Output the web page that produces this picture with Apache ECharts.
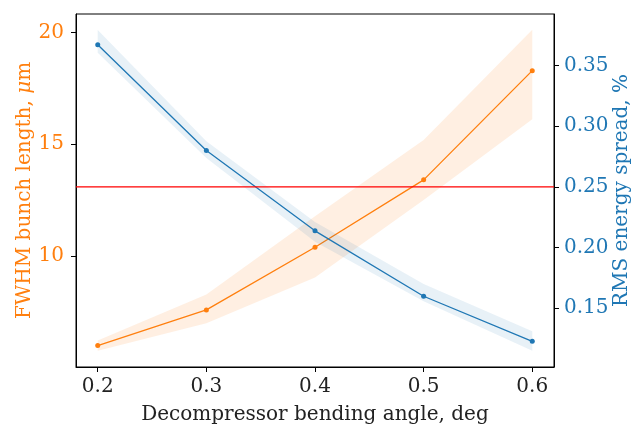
<!DOCTYPE html>
<html>
<head>
<meta charset="utf-8">
<script src="https://cdn.jsdelivr.net/npm/echarts@6/dist/echarts.min.js"></script>
<style>
  html, body { margin: 0; padding: 0; background: #fff; }
  #chart { width: 637px; height: 428px; }
</style>
</head>
<body>
<div id="chart"></div>
<script>
// Decompressor bending angle scan: bunch length and energy spread
const angles = [0.2, 0.3, 0.4, 0.5, 0.6];
const angleTicks = [0.2, 0.3, 0.4, 0.5, 0.6];

// FWHM bunch length, um (mean and spread band)
const bunchLength = [6.01, 7.60, 10.40, 13.41, 18.29];
const bunchLow = [5.78, 7.01, 9.05, 12.51, 16.12];
const bunchHigh = [6.23, 8.29, 11.78, 15.19, 20.12];
const bunchTicks = [10, 15, 20];

// RMS energy spread, % (mean and spread band)
const spread = [0.3673, 0.2800, 0.2137, 0.1597, 0.1225];
const spreadLow = [0.3607, 0.2739, 0.2046, 0.1555, 0.1148];
const spreadHigh = [0.3795, 0.2876, 0.2211, 0.1698, 0.1308];
const spreadTicks = [0.15, 0.20, 0.25, 0.30, 0.35];

// Energy spread limit
const spreadLimit = [0.25];

const ORANGE = '#ff7f0e';
const BLUE = '#1f77b4';
const RED = '#ff0000';
const FONT = 'DejaVu Serif';

function band(low, high, yAxisIndex, fill, z) {
  return {
    type: 'custom',
    yAxisIndex: yAxisIndex,
    silent: true,
    z: z,
    data: angles.map((a, i) => [a, low[i], high[i]]),
    encode: { x: 0, y: [1, 2] },
    renderItem: function (params, api) {
      if (params.dataIndex !== 0) return null;
      const top = angles.map((a, i) => api.coord([a, high[i]]));
      const bottom = angles.map((a, i) => api.coord([a, low[i]])).reverse();
      return {
        type: 'polygon',
        shape: { points: top.concat(bottom) },
        style: { fill: fill }
      };
    }
  };
}

const chart = echarts.init(document.getElementById('chart'), null, { renderer: 'canvas' });

chart.setOption({
  animation: false,
  backgroundColor: '#fff',
  grid: {
    left: 76, right: 83, top: 14, bottom: 61,
    containLabel: false,
    outerBoundsMode: 'none',
    show: true, borderColor: '#000', borderWidth: 1, backgroundColor: 'transparent'
  },
  xAxis: {
    type: 'value',
    min: 0.18, max: 0.62,
    name: 'Decompressor bending angle, deg',
    nameLocation: 'middle',
    nameGap: 38,
    nameMoveOverlap: false,
    nameTextStyle: { fontFamily: FONT, fontSize: 20, color: '#222' },
    axisLine: { show: true, onZero: false, lineStyle: { color: '#000', width: 1 } },
    axisTick: { show: true, length: 5, customValues: angleTicks, lineStyle: { color: '#000' } },
    axisLabel: {
      customValues: angleTicks,
      margin: 10,
      fontFamily: FONT, fontSize: 20, color: '#222',
      formatter: v => Number(v).toFixed(1)
    },
    splitLine: { show: false }
  },
  yAxis: [
    {
      type: 'value',
      position: 'left',
      min: 5.05, max: 20.82,
      name: 'FWHM bunch length, {i|μ}m',
      nameLocation: 'middle',
      nameRotate: 90,
      nameGap: 41,
      nameMoveOverlap: false,
      nameTextStyle: {
        fontFamily: FONT, fontSize: 20, color: ORANGE,
        rich: { i: { fontFamily: FONT, fontSize: 20, fontStyle: 'italic', color: ORANGE } }
      },
      axisLine: { show: true, lineStyle: { color: '#000', width: 1 } },
      axisTick: { show: true, length: 5, customValues: bunchTicks, lineStyle: { color: '#000' } },
      axisLabel: {
        customValues: bunchTicks,
        margin: 12,
        fontFamily: FONT, fontSize: 20, color: ORANGE
      },
      splitLine: { show: false }
    },
    {
      type: 'value',
      position: 'right',
      min: 0.1013, max: 0.3927,
      name: 'RMS energy spread, %',
      nameLocation: 'middle',
      nameRotate: 90,
      nameGap: 58,
      nameMoveOverlap: false,
      nameTextStyle: { fontFamily: FONT, fontSize: 20, color: BLUE },
      axisLine: { show: true, lineStyle: { color: '#000', width: 1 } },
      axisTick: { show: true, length: 5, customValues: spreadTicks, lineStyle: { color: '#000' } },
      axisLabel: {
        customValues: spreadTicks,
        margin: 10,
        fontFamily: FONT, fontSize: 20, color: BLUE,
        formatter: v => Number(v).toFixed(2)
      },
      splitLine: { show: false }
    }
  ],
  series: [
    band(bunchLow, bunchHigh, 0, 'rgba(255,127,14,0.12)', 1),
    {
      type: 'line',
      yAxisIndex: 0,
      z: 2,
      data: angles.map((a, i) => [a, bunchLength[i]]),
      symbol: 'circle', symbolSize: 5, showSymbol: true,
      itemStyle: { color: ORANGE },
      lineStyle: { color: ORANGE, width: 1.3 },
      silent: true
    },
    band(spreadLow, spreadHigh, 1, 'rgba(31,119,180,0.1)', 3),
    {
      type: 'line',
      yAxisIndex: 1,
      z: 4,
      data: angles.map((a, i) => [a, spread[i]]),
      symbol: 'circle', symbolSize: 5, showSymbol: true,
      itemStyle: { color: BLUE },
      lineStyle: { color: BLUE, width: 1.3 },
      silent: true
    },
    {
      // horizontal limit across the full plot width, on the energy-spread axis
      type: 'custom',
      yAxisIndex: 1,
      silent: true,
      z: 5,
      data: spreadLimit.map(v => [0.4, v]),
      encode: { x: 0, y: 1 },
      renderItem: function (params, api) {
        const cs = params.coordSys;
        const y = api.coord([api.value(0), api.value(1)])[1];
        return {
          type: 'line',
          shape: { x1: cs.x, y1: y, x2: cs.x + cs.width, y2: y },
          style: { stroke: RED, lineWidth: 1.2 }
        };
      }
    }
  ]
});
</script>
</body>
</html>
